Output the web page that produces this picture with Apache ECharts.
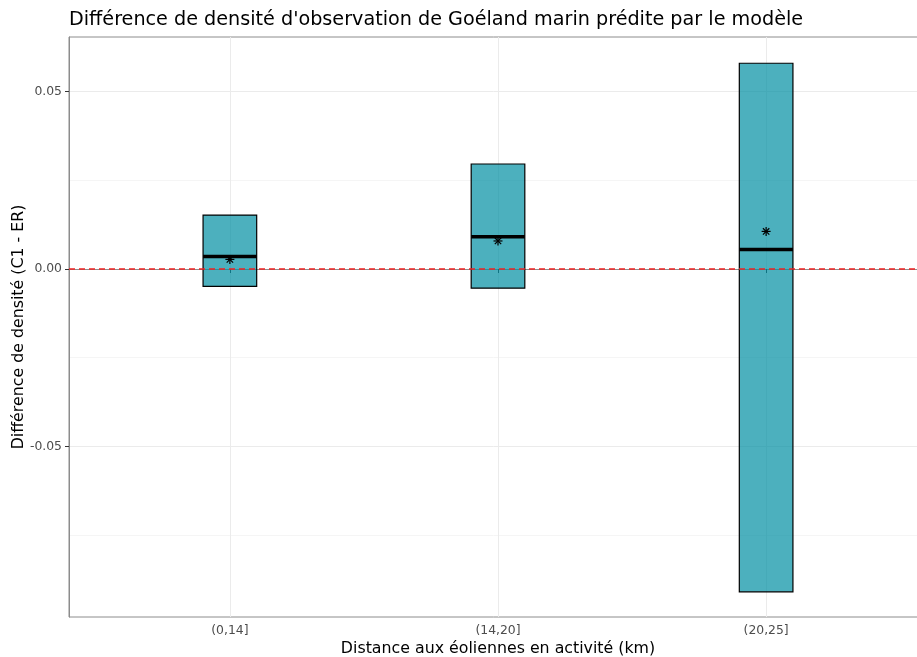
<!DOCTYPE html>
<html>
<head>
<meta charset="utf-8">
<script src="https://cdn.jsdelivr.net/npm/echarts@6/dist/echarts.min.js"></script>
<style>
html, body { margin: 0; padding: 0; background: #fff; }
#chart0 { width: 917px; height: 657px; }
</style>
</head>
<body>
<div id="chart0"></div>
<script>
'use strict';

// distance classes and box stats
var categories = ['(0,14]', '(14,20]', '(20,25]'];
var lowerVals = [-0.0049, -0.0054, -0.0910];
var upperVals = [0.0152, 0.0296, 0.0580];
var medianVals = [0.0035, 0.0091, 0.0055];
var meanVals = [0.0027, 0.0079, 0.0106];
var yMajorTicks = [-0.05, 0, 0.05];
var yMinorTicks = [-0.075, -0.025, 0.025];

var FONT = 'DejaVu Sans';
var chart0 = echarts.init(document.getElementById('chart0'));

var boxData = [];
var meanData = [];
for (var i = 0; i < categories.length; i++) {
	boxData.push([i + 1, lowerVals[i], upperVals[i], medianVals[i]]);
	meanData.push([i + 1, meanVals[i]]);
}

function renderBox(params, api) {
	var x = api.value(0);
	var p1 = api.coord([x - 0.1, api.value(2)]);
	var p2 = api.coord([x + 0.1, api.value(1)]);
	var m1 = api.coord([x - 0.1, api.value(3)]);
	var m2 = api.coord([x + 0.1, api.value(3)]);
	return {
		type : 'group',
		children : [ {
			type : 'rect',
			shape : { x : p1[0], y : p1[1], width : p2[0] - p1[0], height : p2[1] - p1[1] },
			style : { fill : 'rgba(0,142,162,0.7)', stroke : '#000', lineWidth : 1.2 }
		}, {
			type : 'line',
			shape : { x1 : m1[0], y1 : m1[1], x2 : m2[0], y2 : m2[1] },
			style : { stroke : '#000', lineWidth : 3.5 }
		} ]
	};
}

function renderStar(params, api) {
	var c = api.coord([api.value(0), api.value(1)]);
	var r = 4.5;
	var kids = [];
	for (var k = 0; k < 4; k++) {
		var a = k * Math.PI / 4;
		kids.push({
			type : 'line',
			shape : {
				x1 : c[0] - r * Math.cos(a), y1 : c[1] - r * Math.sin(a),
				x2 : c[0] + r * Math.cos(a), y2 : c[1] + r * Math.sin(a)
			},
			style : { stroke : '#000', lineWidth : 1.2 }
		});
	}
	return { type : 'group', children : kids };
}

chart0.setOption({
	animation : false,
	textStyle : { fontFamily : FONT },
	title : {
		text : 'Différence de densité d\'observation de Goéland marin prédite par le modèle',
		left : 64,
		top : 6,
		textStyle : { fontFamily : FONT, fontSize : 19.2, fontWeight : 'normal', color : '#000' }
	},
	grid : {
		left : 69,
		right : -10,
		top : 37,
		bottom : 40,
		containLabel : false,
		outerBoundsMode : 'none',
		show : true,
		borderColor : '#8c8c8c',
		borderWidth : 1
	},
	xAxis : {
		type : 'value',
		min : 0.4,
		max : 3.6,
		name : 'Distance aux éoliennes en activité (km)',
		nameLocation : 'middle',
		nameGap : 24,
		nameMoveOverlap : false,
		nameTextStyle : { fontFamily : FONT, fontSize : 15.8, color : '#000' },
		axisLine : { show : true, lineStyle : { color : '#8c8c8c' } },
		axisTick : { show : true, length : 4, customValues : [ 1, 2, 3 ], lineStyle : { color : '#333' } },
		axisLabel : {
			customValues : [ 1, 2, 3 ],
			formatter : function(v) { return categories[Math.round(v) - 1]; },
			fontSize : 12.4, color : '#4d4d4d', margin : 8
		},
		splitLine : { show : true, lineStyle : { color : '#ebebeb', width : 1 } }
	},
	yAxis : [ {
		type : 'value',
		min : -0.0981,
		max : 0.0654,
		name : 'Différence de densité (C1 - ER)',
		nameLocation : 'middle',
		nameGap : 42,
		nameMoveOverlap : false,
		nameRotate : 90,
		nameTextStyle : { fontFamily : FONT, fontSize : 15.8, color : '#000' },
		axisLine : { show : true, lineStyle : { color : '#8c8c8c' } },
		axisTick : { show : true, length : 4, customValues : yMajorTicks, lineStyle : { color : '#333' } },
		axisLabel : {
			customValues : yMajorTicks,
			formatter : function(v) { return v.toFixed(2); },
			fontSize : 12.4, color : '#4d4d4d', margin : 7
		},
		splitLine : { show : true, lineStyle : { color : '#ebebeb', width : 1 } }
	}, {
		type : 'value',
		min : -0.0981,
		max : 0.0654,
		position : 'left',
		axisLine : { show : false },
		axisTick : { show : false, customValues : yMinorTicks },
		axisLabel : { show : false, customValues : yMinorTicks },
		splitLine : { show : true, lineStyle : { color : '#f5f5f5', width : 1 } }
	} ],
	series : [ {
		name : 'box',
		type : 'custom',
		yAxisIndex : 0,
		renderItem : renderBox,
		data : boxData,
		z : 2,
		markLine : {
			silent : true,
			symbol : 'none',
			label : { show : false },
			lineStyle : { color : '#ee2222', width : 1.6, type : [ 6, 4 ] },
			data : [ { yAxis : 0 } ],
			z : 5
		}
	}, {
		name : 'mean',
		type : 'custom',
		yAxisIndex : 0,
		renderItem : renderStar,
		data : meanData,
		z : 4
	} ]
});
</script>
</body>
</html>
